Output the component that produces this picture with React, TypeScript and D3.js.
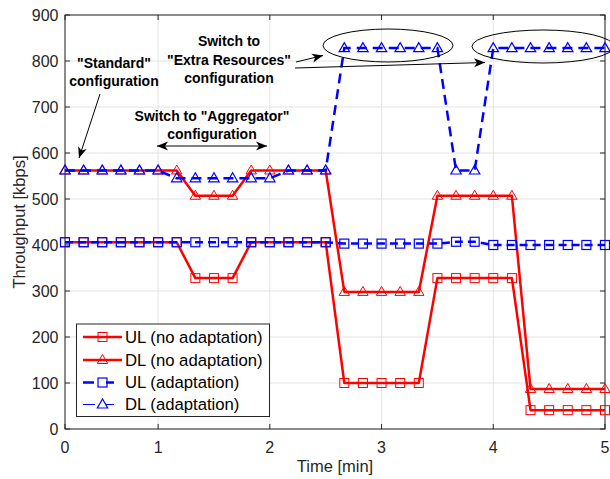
import React from "react";
import * as d3 from "d3";

const samples = [1,2,3,4,5,6,7,8,9,10,11,12,13,14,15,16,17,18,19,20,21,22,23,24,25,26,27,28,29,30];
const ulNoAdapt = [406,406,406,406,406,406,406,328,328,328,406,406,406,406,406,100,100,100,100,100,328,328,328,328,328,41,41,41,41,41];
const dlNoAdapt = [562,562,562,562,562,562,562,507,507,507,562,562,562,562,562,298,298,298,298,298,507,507,507,507,507,87,87,87,87,87];
const ulAdapt = [406,406,406,406,406,406,406,406,406,406,406,406,406,406,406,403,403,403,403,403,403,407,407,400,400,400,400,400,400,400];
const dlAdapt = [562,562,562,562,562,562,545,545,545,545,545,545,562,562,562,828,828,828,828,828,828,562,562,828,828,828,828,828,828,828];

const xTickPos = [1, 6, 12, 18, 24, 30];
const xTickLabels = ["0", "1", "2", "3", "4", "5"];
const yTicks = [0, 100, 200, 300, 400, 500, 600, 700, 800, 900];
const legendLabels = ["UL (no adaptation)", "DL (no adaptation)", "UL (adaptation)", "DL (adaptation)"];

const W = 610, H = 479;
const L = 65, R = 605, T = 15, B = 429;
const FONT = "'Liberation Sans', Arial, Helvetica, sans-serif";
const RED = "#ff0000";
const BLUE = "#0000ff";
const AX = "#262626";

const x = d3.scaleLinear().domain([1, 30]).range([L, R]);
const y = d3.scaleLinear().domain([0, 900]).range([B, T]);

function Square({ cx, cy, color, sw = 1 }: any) {
  return <rect x={cx - 4.5} y={cy - 4.5} width={9} height={9} fill="none" stroke={color} strokeWidth={sw} />;
}
function Tri({ cx, cy, color, sw = 1 }: any) {
  const p = `${cx},${cy - 5.5} ${cx - 5.2},${cy + 3.5} ${cx + 5.2},${cy + 3.5}`;
  return <polygon points={p} fill="none" stroke={color} strokeWidth={sw} />;
}

function Arrow({ x1, y1, x2, y2, double = false }: any) {
  const head = (ax: number, ay: number, bx: number, by: number) => {
    const ang = Math.atan2(ay - by, ax - bx);
    const len = 11, wid = 4.5, back = 8;
    const ux = Math.cos(ang), uy = Math.sin(ang);
    const px = -uy, py = ux;
    const p1 = [ax, ay];
    const p2 = [ax - ux * len + px * wid, ay - uy * len + py * wid];
    const p3 = [ax - ux * back, ay - uy * back];
    const p4 = [ax - ux * len - px * wid, ay - uy * len - py * wid];
    return <polygon points={[p1, p2, p3, p4].map((p) => p.join(",")).join(" ")} fill="#000" />;
  };
  return (
    <g>
      <line x1={x1} y1={y1} x2={x2} y2={y2} stroke="#000" strokeWidth={1} />
      {head(x2, y2, x1, y1)}
      {double && head(x1, y1, x2, y2)}
    </g>
  );
}

export default function App() {
  const line = d3.line<number>().x((_, i) => x(samples[i])).y((d) => y(d));
  const legendYs = [337, 360, 382.5, 404.5];
  return (
    <svg width={W} height={H} style={{ position: "absolute", left: 0, top: 0, background: "#fff" }} fontFamily={FONT}>
      <rect x={0} y={0} width={W} height={H} fill="#fff" />
      {/* grid */}
      {xTickPos.map((t) => (
        <line key={"gx" + t} x1={x(t)} x2={x(t)} y1={T} y2={B} stroke="#e3e3e3" strokeWidth={1} />
      ))}
      {yTicks.map((t) => (
        <line key={"gy" + t} x1={L} x2={R} y1={y(t)} y2={y(t)} stroke="#e3e3e3" strokeWidth={1} />
      ))}
      {/* box */}
      <rect x={L} y={T} width={R - L} height={B - T} fill="none" stroke={AX} strokeWidth={1} />
      {xTickPos.map((t) => (
        <g key={"tx" + t}>
          <line x1={x(t)} x2={x(t)} y1={B} y2={B - 5} stroke={AX} />
          <line x1={x(t)} x2={x(t)} y1={T} y2={T + 5} stroke={AX} />
        </g>
      ))}
      {yTicks.map((t) => (
        <g key={"ty" + t}>
          <line x1={L} x2={L + 5} y1={y(t)} y2={y(t)} stroke={AX} />
          <line x1={R} x2={R - 5} y1={y(t)} y2={y(t)} stroke={AX} />
        </g>
      ))}
      {xTickPos.map((t, i) => (
        <text key={"lx" + t} x={x(t)} y={453} textAnchor="middle" fontSize={16} fill={AX}>
          {xTickLabels[i]}
        </text>
      ))}
      {yTicks.map((t) => (
        <text key={"ly" + t} x={58.5} y={y(t)} dy="0.35em" textAnchor="end" fontSize={16} fill={AX}>
          {t}
        </text>
      ))}
      <text x={(L + R) / 2} y={472} textAnchor="middle" fontSize={16.5} fill={AX}>Time [min]</text>
      <text transform={`translate(19,222) rotate(-90)`} textAnchor="middle" dy="0.35em" fontSize={16.5} fill={AX}>
        Throughput [kbps]
      </text>

      {/* series: no adaptation */}
      <path d={line(ulNoAdapt) || ""} fill="none" stroke={RED} strokeWidth={2.5} strokeLinejoin="round" />
      {ulNoAdapt.map((v, i) => <Square key={"s1" + i} cx={x(samples[i])} cy={y(v)} color={RED} />)}
      <path d={line(dlNoAdapt) || ""} fill="none" stroke={RED} strokeWidth={2.5} strokeLinejoin="round" />
      {dlNoAdapt.map((v, i) => <Tri key={"t1" + i} cx={x(samples[i])} cy={y(v)} color={RED} />)}
      {/* series: adaptation */}
      <path d={line(ulAdapt) || ""} fill="none" stroke={BLUE} strokeWidth={2.5} strokeDasharray="8 5" />
      {ulAdapt.map((v, i) => <Square key={"s2" + i} cx={x(samples[i])} cy={y(v)} color={BLUE} sw={1.2} />)}
      <path d={line(dlAdapt) || ""} fill="none" stroke={BLUE} strokeWidth={2.5} strokeDasharray="10 6" />
      {dlAdapt.map((v, i) => <Tri key={"t2" + i} cx={x(samples[i])} cy={y(v)} color={BLUE} sw={1.2} />)}

      {/* annotations */}
      <g fontWeight="bold" fontSize={14} fill="#000" textAnchor="middle">
        <text x={114} y={63} dy="0.35em">"Standard"</text>
        <text x={114} y={81.5} dy="0.35em">configuration</text>
        <text x={212} y={116.5} dy="0.35em">Switch to "Aggregator"</text>
        <text x={212} y={134} dy="0.35em">configuration</text>
        <text x={229} y={41.5} dy="0.35em">Switch to</text>
        <text x={229} y={60} dy="0.35em">"Extra Resources"</text>
        <text x={229} y={78.5} dy="0.35em">configuration</text>
      </g>
      <Arrow x1={100} y1={94} x2={79} y2={158} />
      <Arrow x1={157} y1={146} x2={267} y2={146} double />
      <Arrow x1={296} y1={62} x2={323} y2={55.5} />
      <Arrow x1={295} y1={68} x2={485} y2={62.5} />
      <ellipse cx={388} cy={45.5} rx={65} ry={16.5} fill="none" stroke="#000" strokeWidth={1} />
      <ellipse cx={543} cy={46.5} rx={71} ry={16.5} fill="none" stroke="#000" strokeWidth={1} />

      {/* legend */}
      <rect x={76.5} y={324} width={193} height={92.5} fill="#fff" stroke={AX} strokeWidth={1} />
      <line x1={83} x2={122} y1={legendYs[0]} y2={legendYs[0]} stroke={RED} strokeWidth={2.5} />
      <Square cx={102.5} cy={legendYs[0]} color={RED} />
      <line x1={83} x2={122} y1={legendYs[1]} y2={legendYs[1]} stroke={RED} strokeWidth={2.5} />
      <Tri cx={102.5} cy={legendYs[1]} color={RED} />
      <line x1={83} x2={94} y1={legendYs[2]} y2={legendYs[2]} stroke={BLUE} strokeWidth={2.5} />
      <line x1={106} x2={114} y1={legendYs[2]} y2={legendYs[2]} stroke={BLUE} strokeWidth={2.5} />
      <Square cx={102.5} cy={legendYs[2]} color={BLUE} sw={1.2} />
      <line x1={83} x2={95} y1={legendYs[3]} y2={legendYs[3]} stroke={BLUE} strokeWidth={1} />
      <line x1={106} x2={114} y1={legendYs[3]} y2={legendYs[3]} stroke={BLUE} strokeWidth={1} />
      <Tri cx={102.5} cy={legendYs[3]} color={BLUE} sw={1.2} />
      {legendLabels.map((s, i) => (
        <text key={s} x={125} y={legendYs[i]} dy="0.35em" fontSize={16.7} fill="#000">{s}</text>
      ))}
    </svg>
  );
}
